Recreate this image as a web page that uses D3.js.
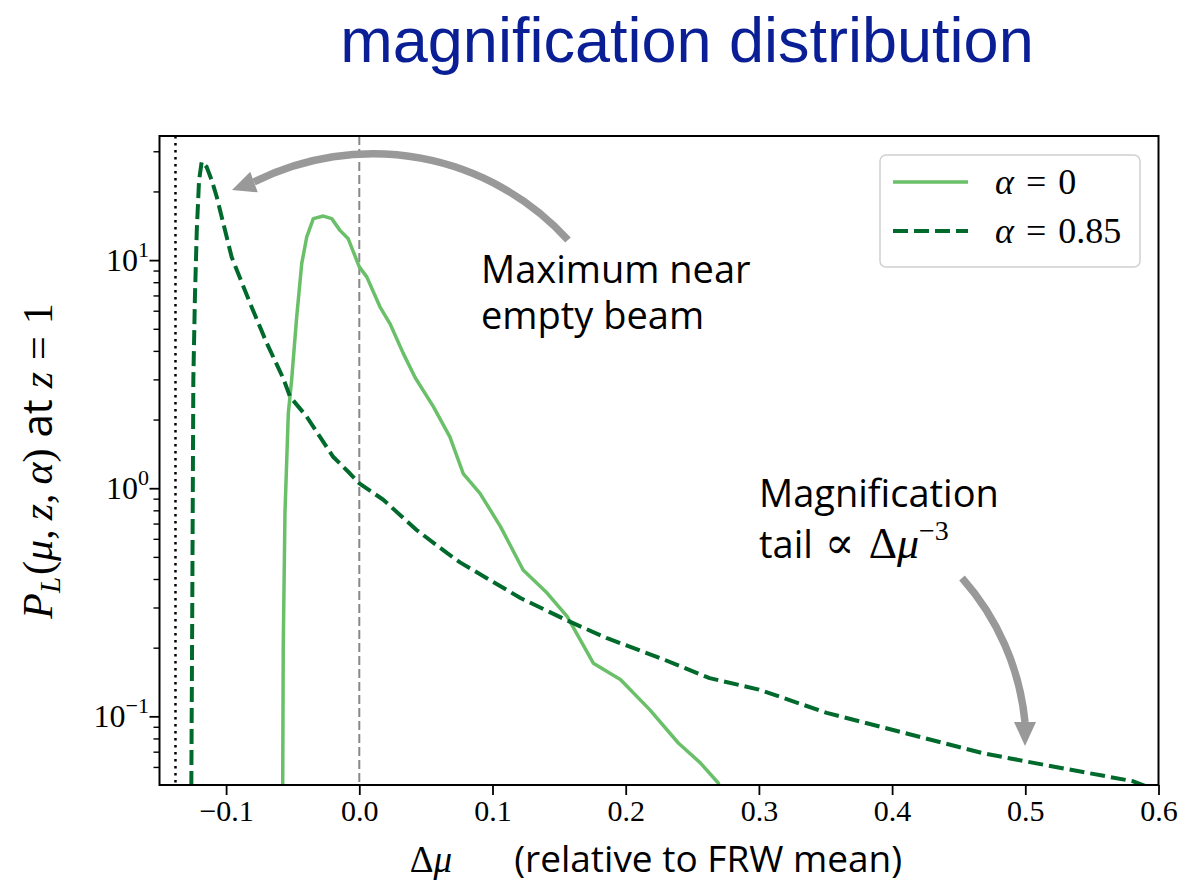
<!DOCTYPE html>
<html>
<head>
<meta charset="utf-8">
<script src="https://cdn.jsdelivr.net/npm/d3@7"></script>
<style>
body { margin: 0; background: #fff; }
</style>
</head>
<body>
<svg id="chart" width="1181" height="888"></svg>
<script>
// alpha = 0 (solid)
const alpha0Mu = [-0.0576, -0.0575, -0.0571, -0.0558, -0.0533, -0.0508, -0.0470, -0.0432, -0.0395, -0.0345,
    -0.0270, -0.0207, -0.0145, -0.0083, 0.0000, 0.0056, 0.0155, 0.0230, 0.0330, 0.0420,
    0.0556, 0.0680, 0.0780, 0.0906, 0.1060, 0.1230, 0.1410, 0.1560, 0.1757, 0.1960,
    0.2180, 0.2395, 0.2560, 0.2695, 0.2710]
const alpha0P = [0.04, 0.05, 0.203, 0.778, 2.13, 2.98, 5.64, 9.67, 12.6, 15.2,
    15.6, 15.2, 13.5, 12.4, 9.34, 8.44, 6.24, 5.27, 3.90, 3.05,
    2.28, 1.68, 1.16, 0.95, 0.679, 0.438, 0.347, 0.274, 0.171, 0.145,
    0.107, 0.0764, 0.0625, 0.051, 0.048]

// alpha = 0.85 (dashed)
const alpha085Mu = [-0.1262, -0.1261, -0.1254, -0.1246, -0.1234, -0.1220, -0.1203, -0.1183, -0.1146, -0.1108,
    -0.1070, -0.0958, -0.0820, -0.0695, -0.0571, -0.0520, -0.0395, -0.0195, -0.0070, 0.0000,
    0.0180, 0.0430, 0.0660, 0.0756, 0.1210, 0.1580, 0.1860, 0.2260, 0.2630, 0.3000,
    0.3510, 0.4680, 0.5000, 0.5810, 0.5920]
const alpha085P = [0.04, 0.05, 0.3, 3.0, 6.9, 13.5, 22.4, 27.0, 25.6, 22.4,
    18.9, 10.3, 6.47, 4.33, 3.03, 2.52, 2.06, 1.37, 1.16, 1.05,
    0.89, 0.656, 0.519, 0.473, 0.330, 0.260, 0.220, 0.180, 0.147, 0.131,
    0.1035, 0.069, 0.0635, 0.0519, 0.049]

const emptyBeamMu = -0.138
const xTicks = [-0.1, 0.0, 0.1, 0.2, 0.3, 0.4, 0.5, 0.6]
const yMajor = [0.1, 1, 10]
const yExp = ['\u22121', '0', '1']
const yMinor = [0.06, 0.07, 0.08, 0.09, 0.2, 0.3, 0.4, 0.5, 0.6, 0.7, 0.8, 0.9, 2, 3, 4, 5, 6, 7, 8, 9, 20, 30]

const serif = '"Liberation Serif", "DejaVu Serif", serif'
const sans = '"Open Sans", "Noto Sans", sans-serif'
const lightGreen = '#6abf69'
const darkGreen = '#006a2c'

const svg = d3.select('#chart')
const pLeft = 159.5, pRight = 1158.5, pTop = 136, pBottom = 785

const x = d3.scaleLinear().domain([-0.15, 0.6]).range([pLeft, pRight])
const y = d3.scaleLog().domain([0.05, 35]).range([pBottom, pTop])

// title
svg.append('text')
    .attr('x', 687).attr('y', 62)
    .attr('text-anchor', 'middle')
    .attr('font-family', '"Liberation Sans", Arial, sans-serif')
    .attr('font-size', 63)
    .attr('fill', '#0a1e96')
    .text('magnification distribution')

svg.append('clipPath').attr('id', 'plotClip')
    .append('rect')
    .attr('x', pLeft).attr('y', pTop)
    .attr('width', pRight - pLeft).attr('height', pBottom - pTop)

const plot = svg.append('g').attr('clip-path', 'url(#plotClip)')

// reference lines
plot.append('line')
    .attr('x1', x(emptyBeamMu)).attr('x2', x(emptyBeamMu))
    .attr('y1', pTop).attr('y2', pBottom)
    .attr('stroke', '#000').attr('stroke-width', 2.5)
    .attr('stroke-dasharray', '2.5,4.5')

plot.append('line')
    .attr('x1', x(0)).attr('x2', x(0))
    .attr('y1', pTop).attr('y2', pBottom)
    .attr('stroke', '#888').attr('stroke-width', 2)
    .attr('stroke-dasharray', '9,4')

const line = d3.line()
    .x(d => x(d[0]))
    .y(d => y(d[1]))

plot.append('path')
    .datum(d3.zip(alpha0Mu, alpha0P))
    .attr('d', line)
    .attr('fill', 'none')
    .attr('stroke', lightGreen)
    .attr('stroke-width', 3.5)
    .attr('stroke-linejoin', 'round')

plot.append('path')
    .datum(d3.zip(alpha085Mu, alpha085P))
    .attr('d', line)
    .attr('fill', 'none')
    .attr('stroke', darkGreen)
    .attr('stroke-width', 4)
    .attr('stroke-linejoin', 'round')
    .attr('stroke-dasharray', '15,6')

// axes
const xAxis = svg.append('g')
    .attr('transform', `translate(0,${pBottom})`)
    .call(d3.axisBottom(x).tickValues(xTicks).tickSize(10).tickPadding(5).tickFormat(d3.format('.1f')))
xAxis.select('.domain').remove()
xAxis.selectAll('line').attr('stroke-width', 1.8)
xAxis.selectAll('text')
    .attr('font-family', serif).attr('font-size', 30).attr('fill', '#000')

const yAxis = svg.append('g')
    .attr('transform', `translate(${pLeft},0)`)
    .call(d3.axisLeft(y).tickValues(yMajor).tickSize(10).tickFormat(''))
yAxis.select('.domain').remove()
yAxis.selectAll('line').attr('stroke-width', 1.8)

svg.append('g')
    .attr('transform', `translate(${pLeft},0)`)
    .call(d3.axisLeft(y).tickValues(yMinor).tickSize(6).tickFormat(''))
    .call(g => g.select('.domain').remove())
    .selectAll('line').attr('stroke-width', 1.4)

yMajor.forEach((v, i) => {
    const t = svg.append('text')
        .attr('x', 149).attr('y', y(v) + 11)
        .attr('text-anchor', 'end')
        .attr('font-family', serif).attr('font-size', 32)
    t.append('tspan').text('10')
    t.append('tspan').attr('font-size', 22).attr('dy', -14).text(yExp[i])
})

svg.append('rect')
    .attr('x', pLeft).attr('y', pTop)
    .attr('width', pRight - pLeft).attr('height', pBottom - pTop)
    .attr('fill', 'none').attr('stroke', '#000').attr('stroke-width', 2)

// axis labels
const xl = svg.append('text')
    .attr('x', 656).attr('y', 872)
    .attr('text-anchor', 'middle')
    .attr('font-size', 37)
xl.append('tspan').attr('font-family', serif).text('\u0394')
xl.append('tspan').attr('font-family', serif).attr('font-style', 'italic').text('\u03bc')
xl.append('tspan').attr('font-family', sans).attr('dx', 62).text('(relative to FRW mean)')

const yl = svg.append('text')
    .attr('transform', 'translate(52,461) rotate(-90)')
    .attr('text-anchor', 'middle')
    .attr('font-size', 42)
    .attr('font-family', serif)
yl.append('tspan').attr('font-style', 'italic').text('P')
yl.append('tspan').attr('font-style', 'italic').attr('font-size', 29).attr('dy', 8).text('L')
yl.append('tspan').attr('dy', -8).attr('dx', 2).text('(')
yl.append('tspan').attr('font-style', 'italic').text('\u03bc')
yl.append('tspan').text(',')
yl.append('tspan').attr('font-style', 'italic').attr('dx', 9).text('z')
yl.append('tspan').text(',')
yl.append('tspan').attr('font-style', 'italic').attr('dx', 9).text('\u03b1')
yl.append('tspan').text(')')
yl.append('tspan').attr('font-family', sans).text(' at ')
yl.append('tspan').attr('font-style', 'italic').text('z')
yl.append('tspan').attr('dx', 12).text('=')
yl.append('tspan').attr('dx', 12).text('1')

// legend
const legend = svg.append('g')
legend.append('rect')
    .attr('x', 880).attr('y', 155).attr('width', 260).attr('height', 112).attr('rx', 6)
    .attr('fill', '#fff').attr('fill-opacity', 0.8)
    .attr('stroke', '#d0d0d0').attr('stroke-width', 1.5)

const legendItems = [
    { label: '0', color: lightGreen, width: 3.5, dash: null },
    { label: '0.85', color: darkGreen, width: 4, dash: '15,6' }
]
legendItems.forEach((d, i) => {
    const ly = 182 + i * 49
    legend.append('line')
        .attr('x1', 893).attr('x2', 968).attr('y1', ly).attr('y2', ly)
        .attr('stroke', d.color).attr('stroke-width', d.width)
        .attr('stroke-dasharray', d.dash)
    const t = legend.append('text')
        .attr('x', 995).attr('y', ly + 12)
        .attr('font-family', serif).attr('font-size', 36)
    t.append('tspan').attr('font-style', 'italic').text('\u03b1')
    t.append('tspan').attr('dx', 12).text('=')
    t.append('tspan').attr('dx', 12).text(d.label)
})

// annotations
const annoFont = 38
const a1 = svg.append('text').attr('font-family', sans).attr('font-size', annoFont)
a1.append('tspan').attr('x', 481).attr('y', 283).text('Maximum near')
a1.append('tspan').attr('x', 481).attr('y', 329).text('empty beam')

const a2 = svg.append('text').attr('font-family', sans).attr('font-size', annoFont)
a2.append('tspan').attr('x', 759).attr('y', 507).text('Magnification')
const l2 = svg.append('text').attr('x', 759).attr('y', 558).attr('font-size', annoFont)
l2.append('tspan').attr('font-family', sans).text('tail')
l2.append('tspan').attr('font-family', serif).attr('font-size', 44).attr('dx', 12).text('\u221d')
l2.append('tspan').attr('font-family', serif).attr('font-size', 44).attr('dx', 14).text('\u0394')
l2.append('tspan').attr('font-family', serif).attr('font-size', 44).attr('font-style', 'italic').text('\u03bc')
l2.append('tspan').attr('font-family', serif).attr('font-size', 28).attr('dy', -18).text('\u22123')

function circle3(a, b, c) {
    const d = 2 * (a[0] * (b[1] - c[1]) + b[0] * (c[1] - a[1]) + c[0] * (a[1] - b[1]))
    const sa = a[0] ** 2 + a[1] ** 2, sb = b[0] ** 2 + b[1] ** 2, sc = c[0] ** 2 + c[1] ** 2
    const ux = (sa * (b[1] - c[1]) + sb * (c[1] - a[1]) + sc * (a[1] - b[1])) / d
    const uy = (sa * (c[0] - b[0]) + sb * (a[0] - c[0]) + sc * (b[0] - a[0])) / d
    return Math.hypot(a[0] - ux, a[1] - uy)
}

const drawArrow = function (tail, mid, base, tip, halfW) {
    const r = circle3(tail, mid, base)
    const cross = (mid[0] - tail[0]) * (base[1] - mid[1]) - (mid[1] - tail[1]) * (base[0] - mid[0])
    const sweep = cross > 0 ? 1 : 0
    svg.append('path')
        .attr('d', `M${tail[0]},${tail[1]} A${r},${r} 0 0 ${sweep} ${base[0]},${base[1]}`)
        .attr('fill', 'none').attr('stroke', '#999').attr('stroke-width', 7.5)
    const dx = tip[0] - base[0], dy = tip[1] - base[1]
    const len = Math.hypot(dx, dy)
    const px = -dy / len * halfW, py = dx / len * halfW
    svg.append('path')
        .attr('d', `M${tip[0]},${tip[1]} L${base[0] + px},${base[1] + py} L${base[0] - px},${base[1] - py} Z`)
        .attr('fill', '#999')
}

drawArrow([568, 240], [420, 158], [254, 182], [232, 190], 11)
drawArrow([962, 578], [1013, 666], [1025, 722], [1025, 746], 11)
</script>
</body>
</html>
